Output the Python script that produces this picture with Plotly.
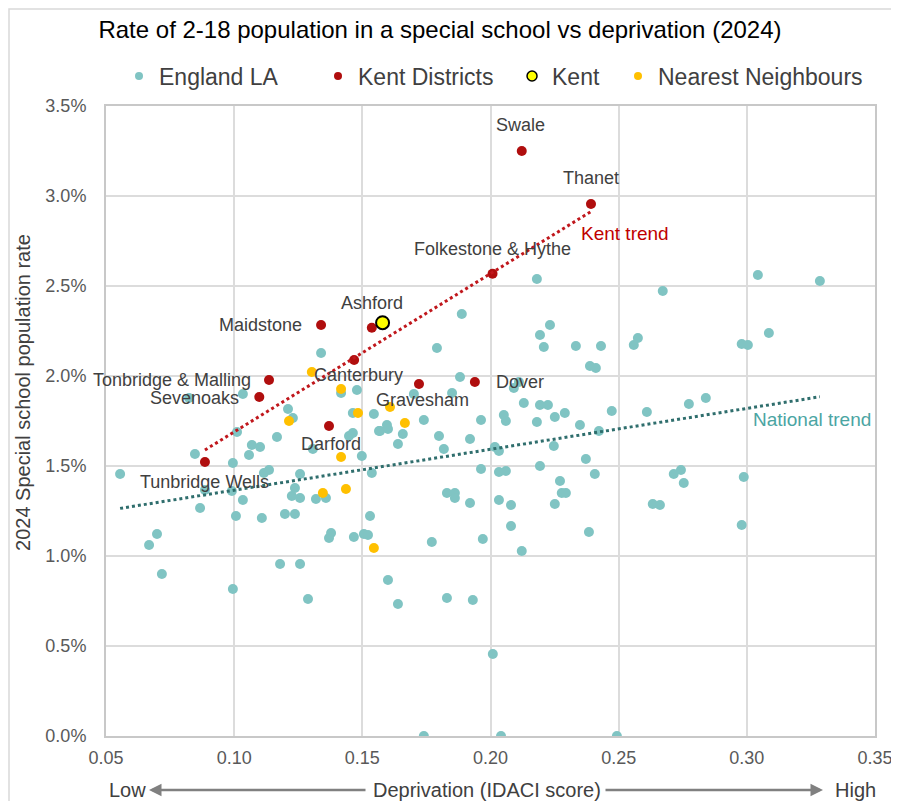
import numpy as np
import plotly.graph_objects as go

# England LA (teal) - IDACI score vs % of 2-18 pop in special school
la_x = [0.1339, 0.1034, 0.0824, 0.1417, 0.1479, 0.1210, 0.1229, 0.1463, 0.1545, 0.1011,
        0.1167, 0.1069, 0.1101, 0.1448, 0.1463, 0.1307, 0.1058, 0.1498, 0.1565, 0.0847,
        0.0995, 0.0555, 0.1116, 0.1136, 0.1257, 0.0886, 0.0991, 0.1237, 0.1225, 0.1257,
        0.1034, 0.1319, 0.1358, 0.0867, 0.1007, 0.1108, 0.1198, 0.1237, 0.1530, 0.0699,
        0.0668, 0.1378, 0.1370, 0.1467, 0.1506, 0.1522, 0.0718, 0.1179, 0.1257, 0.0995,
        0.1288, 0.1537, 0.2181, 0.1888, 0.2672, 0.2232, 0.2193, 0.2208, 0.2333, 0.2431,
        0.1791, 0.2575, 0.2559, 0.2388, 0.2411, 0.1881, 0.1850, 0.1701, 0.2091, 0.2111,
        0.2130, 0.2193, 0.2224, 0.2290, 0.2251, 0.2473, 0.2610, 0.2052, 0.2060, 0.2181,
        0.2349, 0.2423, 0.1963, 0.1740, 0.1596, 0.1569, 0.1600, 0.1658, 0.1639, 0.1799,
        0.1920, 0.1818, 0.2017, 0.2033, 0.2247, 0.2372, 0.2193, 0.2407, 0.1963, 0.2033,
        0.2060, 0.2271, 0.2278, 0.2294, 0.1830, 0.1861, 0.1861, 0.1920, 0.2033, 0.2080,
        0.2251, 0.2633, 0.2661, 0.2080, 0.1970, 0.1771, 0.2122, 0.2384, 0.2980, 0.1600,
        0.1639, 0.1830, 0.1931, 0.2009, 0.1740, 0.2041, 0.2493, 0.3043, 0.3285, 0.2980,
        0.3004, 0.3086, 0.2774, 0.2840, 0.2715, 0.2743, 0.2754, 0.2988]
la_y = [2.128, 1.900, 1.878, 1.906, 1.922, 1.817, 1.767, 1.794, 1.789, 1.689,
        1.661, 1.617, 1.606, 1.667, 1.683, 1.594, 1.561, 1.556, 1.694, 1.567,
        1.517, 1.456, 1.461, 1.478, 1.456, 1.367, 1.361, 1.378, 1.333, 1.322,
        1.311, 1.317, 1.322, 1.267, 1.222, 1.211, 1.233, 1.233, 1.222, 1.122,
        1.061, 1.128, 1.100, 1.106, 1.122, 1.117, 0.900, 0.956, 0.956, 0.817,
        0.761, 1.461, 2.539, 2.344, 2.472, 2.283, 2.228, 2.161, 2.167, 2.167,
        2.156, 2.211, 2.172, 2.056, 2.044, 1.994, 1.906, 1.900, 1.933, 1.967,
        1.850, 1.839, 1.839, 1.794, 1.772, 1.806, 1.800, 1.783, 1.750, 1.744,
        1.728, 1.694, 1.756, 1.756, 1.728, 1.694, 1.706, 1.678, 1.622, 1.667,
        1.650, 1.594, 1.606, 1.583, 1.611, 1.539, 1.500, 1.456, 1.483, 1.467,
        1.472, 1.417, 1.350, 1.350, 1.350, 1.350, 1.322, 1.294, 1.311, 1.283,
        1.289, 1.289, 1.283, 1.167, 1.094, 1.078, 1.028, 1.133, 1.172, 0.867,
        0.733, 0.767, 0.756, 0.456, 0.0, 0.0, 0.0, 2.561, 2.528, 2.178,
        2.172, 2.239, 1.844, 1.878, 1.456, 1.478, 1.406, 1.439]

# Kent districts (red)
kd_names = ["Swale", "Thanet", "Folkestone & Hythe", "Ashford", "Maidstone", "Canterbury",
            "Tonbridge & Malling", "Sevenoaks", "Gravesham", "Dover", "Darford", "Tunbridge Wells"]
kd_x = [0.2122, 0.2392, 0.2008, 0.1537, 0.1339, 0.1468, 0.1136, 0.1098, 0.1721, 0.1939, 0.1370, 0.0886]
kd_y = [3.250, 2.956, 2.568, 2.268, 2.283, 2.089, 1.978, 1.883, 1.956, 1.967, 1.722, 1.522]

# Kent LA (yellow)
kent_x = [0.1579]
kent_y = [2.296]

# Nearest neighbours (orange)
nn_x = [0.1303, 0.1417, 0.1483, 0.1214, 0.1608, 0.1666, 0.1417, 0.1346, 0.1436, 0.1545]
nn_y = [2.022, 1.928, 1.794, 1.750, 1.828, 1.739, 1.550, 1.350, 1.372, 1.044]

TEAL = "#80C4C3"
RED = "#B00E0E"
ORANGE = "#FFC000"
FONT = "Liberation Sans, Arial, sans-serif"

# label placement for the Kent districts: (xanchor, xshift, yshift)
label_pos = {
    "Swale": ("center", -1, 26),
    "Thanet": ("center", 0, 26),
    "Folkestone & Hythe": ("center", 0, 25),
    "Ashford": ("center", 0, 25),
    "Maidstone": ("right", -17, 0),
    "Canterbury": ("center", 4, -15),
    "Tonbridge & Malling": ("right", -16, 0),
    "Sevenoaks": ("right", -18, -1),
    "Gravesham": ("center", 4, -16),
    "Dover": ("left", 19, 0),
    "Darford": ("center", 2, -18),
    "Tunbridge Wells": ("center", 0, -20),
}


def trend(xs, ys):
    # linear least squares, like the Excel trendline
    k, c = np.polyfit(xs, ys, 1)
    x0, x1 = min(xs), max(xs)
    return [x0, x1], [k * x0 + c, k * x1 + c]


def main():
    fig = go.Figure()

    fig.add_trace(go.Scatter(x=la_x, y=la_y, mode="markers", name="England LA", showlegend=False,
                             marker=dict(color=TEAL, size=10)))
    fig.add_trace(go.Scatter(x=kd_x, y=kd_y, mode="markers", name="Kent Districts", showlegend=False,
                             marker=dict(color=RED, size=10)))
    fig.add_trace(go.Scatter(x=nn_x, y=nn_y, mode="markers", name="Nearest Neighbours", showlegend=False,
                             marker=dict(color=ORANGE, size=10)))
    fig.add_trace(go.Scatter(x=kent_x, y=kent_y, mode="markers", name="Kent", showlegend=False,
                             marker=dict(color="#FFFF00", size=13, line=dict(color="black", width=2))))

    tx, ty = trend(kd_x, kd_y)
    fig.add_trace(go.Scatter(x=tx, y=ty, mode="lines", showlegend=False, hoverinfo="skip",
                             line=dict(color="#C0171C", width=3, dash="dot")))
    # national trend over every LA (incl. Kent and its neighbours)
    nx, ny = trend(la_x + nn_x + kent_x, la_y + nn_y + kent_y)
    fig.add_trace(go.Scatter(x=nx, y=ny, mode="lines", showlegend=False, hoverinfo="skip",
                             line=dict(color="#2F6E6D", width=3, dash="dot")))

    # legend entries, one legend each so they can sit where the original puts them
    leg = [("England LA", dict(color=TEAL, size=8), "legend", 0.0169),
           ("Kent Districts", dict(color=RED, size=8), "legend2", 0.2757),
           ("Kent", dict(color="#FFFF00", size=10, line=dict(color="black", width=1.5)), "legend3", 0.5280),
           ("Nearest Neighbours", dict(color=ORANGE, size=8), "legend4", 0.6658)]
    for name, mk, lg, lx in leg:
        fig.add_trace(go.Scatter(x=[None], y=[None], mode="markers", name=name, marker=mk,
                                 legend=lg, showlegend=True))
        fig.update_layout({lg: dict(x=lx, xanchor="left", y=1 + 30 / 630, yanchor="middle",
                                    orientation="h", bgcolor="rgba(0,0,0,0)", itemwidth=30,
                                    font=dict(family=FONT, size=23, color="#404040"))})

    anns = []
    for name, x, y in zip(kd_names, kd_x, kd_y):
        xa, xs, ys = label_pos[name]
        anns.append(dict(x=x, y=y, text=name, showarrow=False, xanchor=xa, yanchor="middle",
                         xshift=xs, yshift=ys, font=dict(family=FONT, size=18, color="#404040")))
    anns.append(dict(x=0.2524, y=2.789, text="Kent trend", showarrow=False,
                     font=dict(family=FONT, size=19, color="#C00000")))
    anns.append(dict(x=0.3253, y=1.756, text="National trend", showarrow=False,
                     font=dict(family=FONT, size=19, color="#4BA5A3")))

    # axis captions with arrows under the x axis
    ycap = -54 / 630
    anns.append(dict(xref="paper", yref="paper", x=0.4954, y=ycap, text="Deprivation (IDACI score)",
                     xanchor="center", yanchor="middle",
                     showarrow=False, font=dict(family=FONT, size=20, color="#404040")))
    anns.append(dict(xref="paper", yref="paper", x=0.0013, y=ycap, text="Low", xanchor="left",
                     yanchor="middle", showarrow=False, font=dict(family=FONT, size=20, color="#404040")))
    anns.append(dict(xref="paper", yref="paper", x=1.0039, y=ycap, text="High", xanchor="right",
                     yanchor="middle", showarrow=False, font=dict(family=FONT, size=20, color="#404040")))
    anns.append(dict(xref="paper", yref="paper", x=(148 - 105) / 769, y=ycap, text="",
                     showarrow=True, ax=218, ay=0, arrowhead=2, arrowsize=1, arrowwidth=2.5,
                     arrowcolor="#808080"))
    anns.append(dict(xref="paper", yref="paper", x=(822 - 105) / 769, y=ycap, text="",
                     showarrow=True, ax=-219, ay=0, arrowhead=2, arrowsize=1, arrowwidth=2.5,
                     arrowcolor="#808080"))
    anns.append(dict(xref="paper", yref="paper", x=-0.108, y=0.546, text="2024 Special school population rate",
                     textangle=-90, xanchor="center", yanchor="middle", showarrow=False,
                     font=dict(family=FONT, size=20, color="#404040")))

    # the page puts the figure about 7px in from the top-left corner, margins allow for that
    fig.update_layout(
        width=899, height=801,
        margin=dict(l=98, r=32, t=98, b=73, autoexpand=False),
        paper_bgcolor="white", plot_bgcolor="white",
        font=dict(family=FONT, size=18, color="#595959"),
        title=dict(text="Rate of 2-18 population in a special school vs deprivation (2024)",
                   x=0.4805, xanchor="center", y=1 - 22 / 801, yanchor="middle", yref="container",
                   font=dict(family=FONT, size=24, color="black")),
        annotations=anns,
        shapes=[dict(type="rect", xref="paper", yref="paper", x0=-97 / 769, x1=788 / 769,
                     y0=-0.12, y1=727 / 630, line=dict(color="#d9d9d9", width=1.5), layer="below")],
    )
    fig.update_xaxes(range=[0.05, 0.35], tickvals=[0.05, 0.10, 0.15, 0.20, 0.25, 0.30, 0.35],
                     tickformat=".2f", showgrid=True, gridcolor="#dcdcdc", gridwidth=2,
                     showline=True, linecolor="#c8c8c8", linewidth=2, mirror=True,
                     zeroline=False, ticks="", ticklabelstandoff=4, automargin=False)
    fig.update_yaxes(range=[0, 3.5], dtick=0.5, tickformat=".1f", ticksuffix="%",
                     showgrid=True, gridcolor="#dcdcdc", gridwidth=2,
                     showline=True, linecolor="#c8c8c8", linewidth=2, mirror=True,
                     zeroline=False, ticks="", ticklabelstandoff=14, automargin=False)

    fig.write_html("out.html")


if __name__ == "__main__":
    main()
